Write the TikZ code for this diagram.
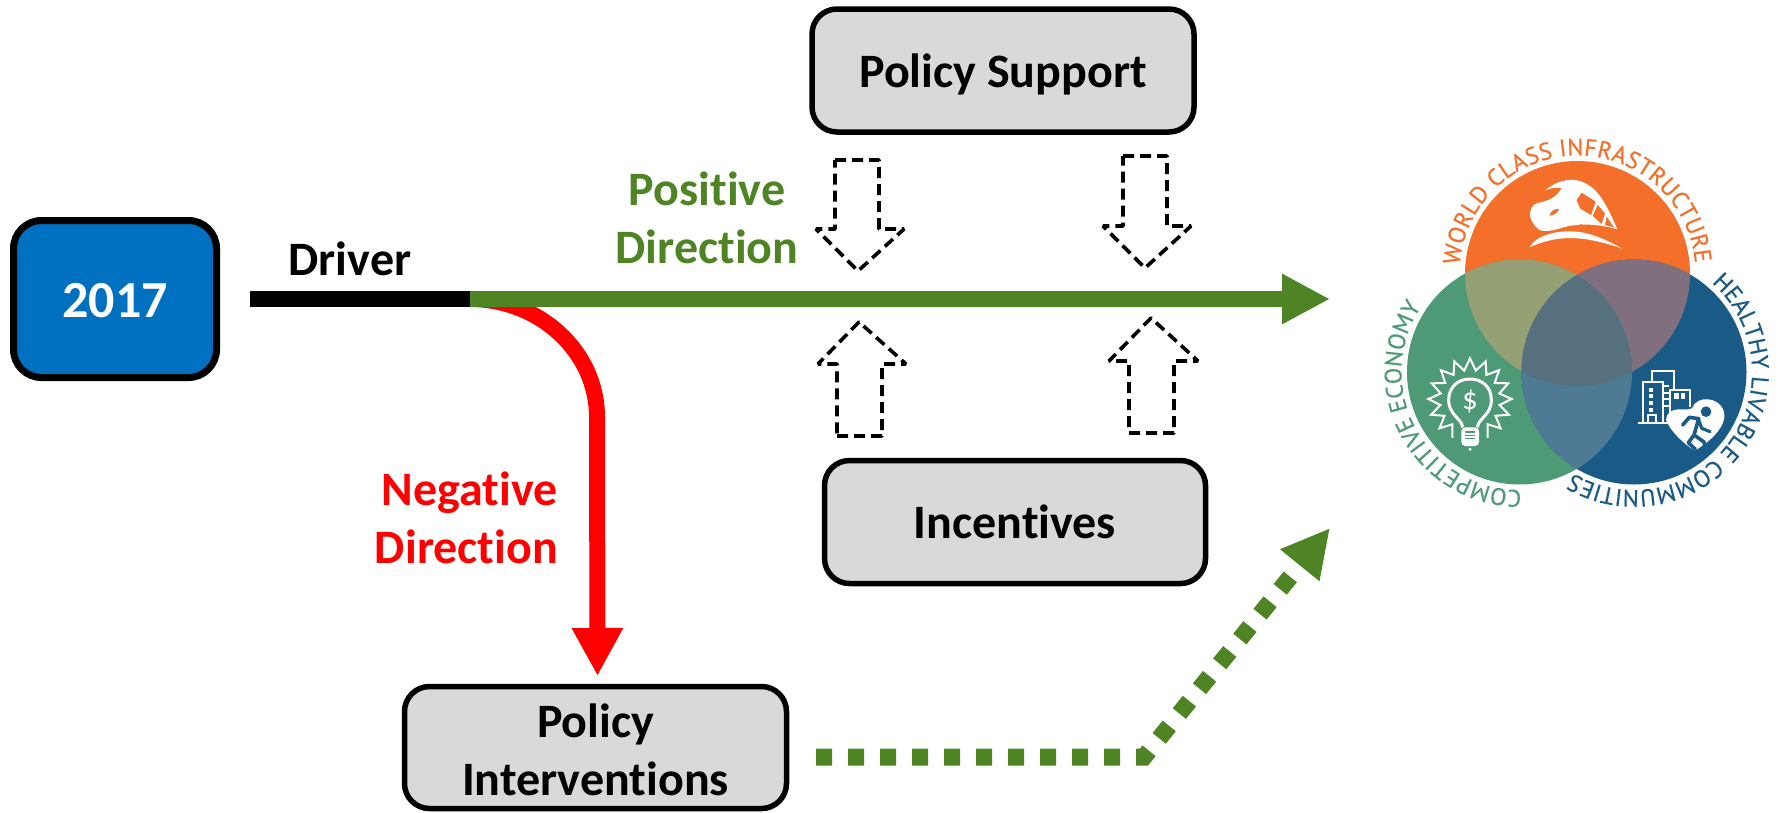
\documentclass[tikz,border=0pt]{standalone}
\usepackage{fontspec}
\setmainfont{Carlito}[Ligatures=NoCommon]
\newfontfamily\logofont{PT Sans}[FakeBold=0.4]
\usetikzlibrary{arrows.meta,decorations.text}
\definecolor{boxblue}{HTML}{0070C0}
\definecolor{boxgray}{HTML}{D9D9D9}
\definecolor{dirgreen}{HTML}{4E8423}
\definecolor{lorange}{HTML}{F4702A}
\definecolor{lgreen}{HTML}{4E9A76}
\definecolor{lblue}{HTML}{195A87}
\definecolor{logb}{HTML}{96A075}
\definecolor{logc}{HTML}{80707F}
\definecolor{logd}{HTML}{4E7A94}
\definecolor{loge}{HTML}{56707D}
\tikzset{
  lbl/.style={font=\fontsize{48}{58}\selectfont\bfseries,inner sep=0pt},
  grayBox/.style={lbl,draw=black,line width=5.5pt,fill=boxgray,rounded corners=25pt,align=center},
  blockArrow/.style={draw=black,line width=3.6pt,dash pattern=on 11pt off 6pt,line join=bevel},
  iconScope/.style={x=0.33333pt,y=-0.33333pt},
  ringText/.style={decorate},
}
\begin{document}
\begin{tikzpicture}[x=1pt,y=1pt]
\useasboundingbox (0,-812) rectangle (1782,0);
% boxes
\node[draw=black,line width=7pt,fill=boxblue,rounded corners=28pt,inner sep=0pt,font=\fontsize{52}{58}\selectfont\bfseries,
  minimum width=203pt,minimum height=157pt,text=white,text height=36pt,text depth=0pt] (y2017) at (115,-299) {2017};
\node[grayBox,minimum width=382pt,minimum height=123pt,text height=33pt,text depth=0pt] (ps) at (1003,-70.5) {Policy Support};
\node[grayBox,minimum width=381pt,minimum height=123pt,text height=32pt,text depth=0pt] (inc) at (1015,-522) {Incentives};
\node[grayBox,minimum width=382pt,minimum height=122pt] (pi) at (595.5,-747.5) {\rule{0pt}{39pt}Policy\\Interventions};
% labels
\node[lbl,anchor=base] (drv) at (350,-275) {Driver};
\node[lbl,text=dirgreen,align=center] (pos) at (707,-218) {Positive\\Direction};
\node[lbl,text=red,align=right,anchor=east] (neg) at (558,-517.5) {Negative\\Direction};
% connectors
\coordinate (a0) at (250,-299);
\coordinate (j) at (470,-299);
\coordinate (gt) at (1330,-299);
\coordinate (rb) at (597,-417);
\coordinate (rt) at (597.5,-676);
\coordinate (d0) at (816,-757);
\coordinate (d1) at (1144,-757);
\coordinate (dt) at (1330,-528);
\draw[red,line width=16pt,-{Triangle[length=48pt,width=48pt]}] (j) .. controls (540,-299) and (597,-352) .. (rb) -- (rt);
\draw[black,line width=16pt] (a0) -- (j);
\draw[dirgreen,line width=16pt,-{Triangle[length=48pt,width=47pt]}] (j) -- (gt);
\draw[dirgreen,line width=17pt,dash pattern=on 16pt off 16pt,-{Triangle[length=48pt,width=47pt]}] (d0) -- (d1) -- (dt);
% dashed block arrows
\draw[blockArrow] (835,-160) -- (879,-160) -- (879,-229) -- (904,-229) -- (858,-271) -- (816,-229) -- (835,-229) -- cycle;
\draw[blockArrow] (1123,-156) -- (1167,-156) -- (1167,-226) -- (1191,-226) -- (1145,-268) -- (1103,-226) -- (1123,-226) -- cycle;
\draw[blockArrow] (837,-436) -- (882,-436) -- (882,-364) -- (906,-364) -- (859,-322) -- (818,-364) -- (837,-364) -- cycle;
\draw[blockArrow] (1129,-433) -- (1174,-433) -- (1174,-361) -- (1198,-361) -- (1151,-318) -- (1109,-361) -- (1129,-361) -- cycle;
% logo circles
\coordinate (co) at (1577.5,-273.5);
\coordinate (cg) at (1519.5,-372);
\coordinate (cb) at (1634,-372);
\def\rr{112.5}
\fill[lorange] (co) circle[radius=\rr];
\fill[lgreen] (cg) circle[radius=\rr];
\fill[lblue] (cb) circle[radius=\rr];
\begin{scope}\clip (co) circle[radius=\rr]; \fill[logb] (cg) circle[radius=\rr]; \fill[logc] (cb) circle[radius=\rr];\end{scope}
\begin{scope}\clip (cg) circle[radius=\rr]; \fill[logd] (cb) circle[radius=\rr];
  \clip (cb) circle[radius=\rr]; \fill[loge] (co) circle[radius=\rr];\end{scope}
% ring texts
\path[ringText,decoration={text along path,text align={fit to path},
  text={|\logofont\fontsize{24}{24}\selectfont\color{lorange}|WORLD CLASS INFRASTRUCTURE}}]
  (co) ++(176:118) arc[start angle=176,end angle=5,radius=118];
\path[ringText,decoration={text along path,text align={fit to path},
  text={|\logofont\fontsize{24}{24}\selectfont\color{lblue}|HEALTHY LIVABLE COMMUNITIES}}]
  (cb) ++(49:118) arc[start angle=49,end angle=-121,radius=118];
\path[ringText,decoration={text along path,text align={fit to path},
  text={|\logofont\fontsize{24}{24}\selectfont\color{lgreen}|COMPETITIVE ECONOMY{ }}}]
  (cg) ++(-89:118) arc[start angle=271,end angle=148,radius=118];
% train icon
\begin{scope}[shift={(1430,-150)},iconScope]
\fill[white] (345,122) .. controls (375,95) and (420,80) .. (455,95) .. controls (495,110) and (520,140) .. (562,238) .. controls (520,225) and (450,215) .. (390,235) .. controls (360,245) and (335,245) .. (325,238) .. controls (310,225) and (298,205) .. (300,190) .. controls (302,170) and (310,160) .. (340,155) .. controls (360,150) and (380,140) .. (395,115) .. controls (375,110) and (360,115) .. (345,122) -- cycle;
\fill[lorange] (440,150) -- (455,128) -- (497,155) -- (483,195) -- (450,175) -- cycle;
\fill[lorange] (503,165) -- (525,190) -- (515,222) -- (488,198) -- cycle;
\fill[lorange] (530,200) -- (552,232) -- (525,225) -- cycle;
\fill[lorange] (358,197) .. controls (362,182) and (375,175) .. (388,177) .. controls (382,190) and (370,197) .. (358,197) -- cycle;
\draw[lorange,line width=1pt] (450,224) -- (565,262);
\fill[white] (298,292) .. controls (320,255) and (380,240) .. (440,245) .. controls (490,250) and (540,275) .. (577,296) .. controls (520,275) and (450,260) .. (400,265) .. controls (360,268) and (325,280) .. (298,292) -- cycle;
\end{scope}
% bulb icon
\begin{scope}[shift={(1420,-350)},iconScope]
\draw[white,line width=2pt,line join=miter]
  (115:125) ++(150,150)
  \foreach \i [evaluate=\i as \a using 115+\i*11.07, evaluate=\i as \r using {mod(\i,2)==0 ? 125 : 90}] in {1,...,28} { -- ([shift={(\a:\r)}]150,150) };
\draw[white,line width=3pt] (128,232) .. controls (125,205) and (86,195) .. (86,150) .. controls (86,110) and (115,87) .. (150,87) .. controls (185,87) and (214,110) .. (214,150) .. controls (214,195) and (175,205) .. (172,232);
\fill[white,rounded corners=4pt] (124,232) rectangle (177,288);
\fill[white] (150,298) circle[radius=5];
\foreach \yy in {246,256,266} \draw[lgreen,line width=1.2pt] (135,\yy) -- (166,\yy);
\node[white,font=\fontsize{31}{31}\selectfont,inner sep=0pt] (dollar) at (150,153) {\$};
\end{scope}
% city icon
\begin{scope}[shift={(1630,-360)},iconScope]
\draw[white,line width=2.2pt] (40,190) -- (40,65) -- (100,65) -- (100,190);
\draw[white,line width=2.2pt] (65,65) -- (65,32) -- (133,32) -- (133,90);
\draw[white,line width=2.2pt] (25,190) -- (118,190);
\draw[white,line width=2.2pt] (120,190) -- (120,90) -- (180,90) -- (180,140);
\draw[white,line width=2.2pt] (55,190) -- (55,165) -- (77,165) -- (77,190);
\foreach \yy in {83,103,123,143} \fill[white] (58,\yy) rectangle (70,\yy+12);
\foreach \xx in {132,152} \fill[white] (\xx,100) rectangle (\xx+14,116);
\foreach \yy in {75,95,115,135} \fill[white] (103,\yy) rectangle (118,\yy+6);
\fill[white] (108,180) .. controls (108,160) and (125,148) .. (145,148) .. controls (162,148) and (175,150) .. (186,145) .. controls (192,125) and (215,115) .. (235,118) .. controls (270,122) and (288,150) .. (282,178) .. controls (275,210) and (240,245) .. (194,272) .. controls (160,250) and (122,215) .. (108,180) -- cycle;
\fill[lblue] (228,155) circle[radius=16];
\draw[lblue,line width=3.6pt,line join=round,line cap=round] (158,195) -- (178,172) -- (206,176) -- (192,225) -- (222,246) -- (226,270);
\draw[lblue,line width=3.6pt,line join=round,line cap=round] (192,225) -- (175,248) -- (196,268);
\draw[lblue,line width=3.2pt,line join=round,line cap=round] (206,180) -- (215,205) -- (240,215);
\end{scope}
\end{tikzpicture}
\end{document}
